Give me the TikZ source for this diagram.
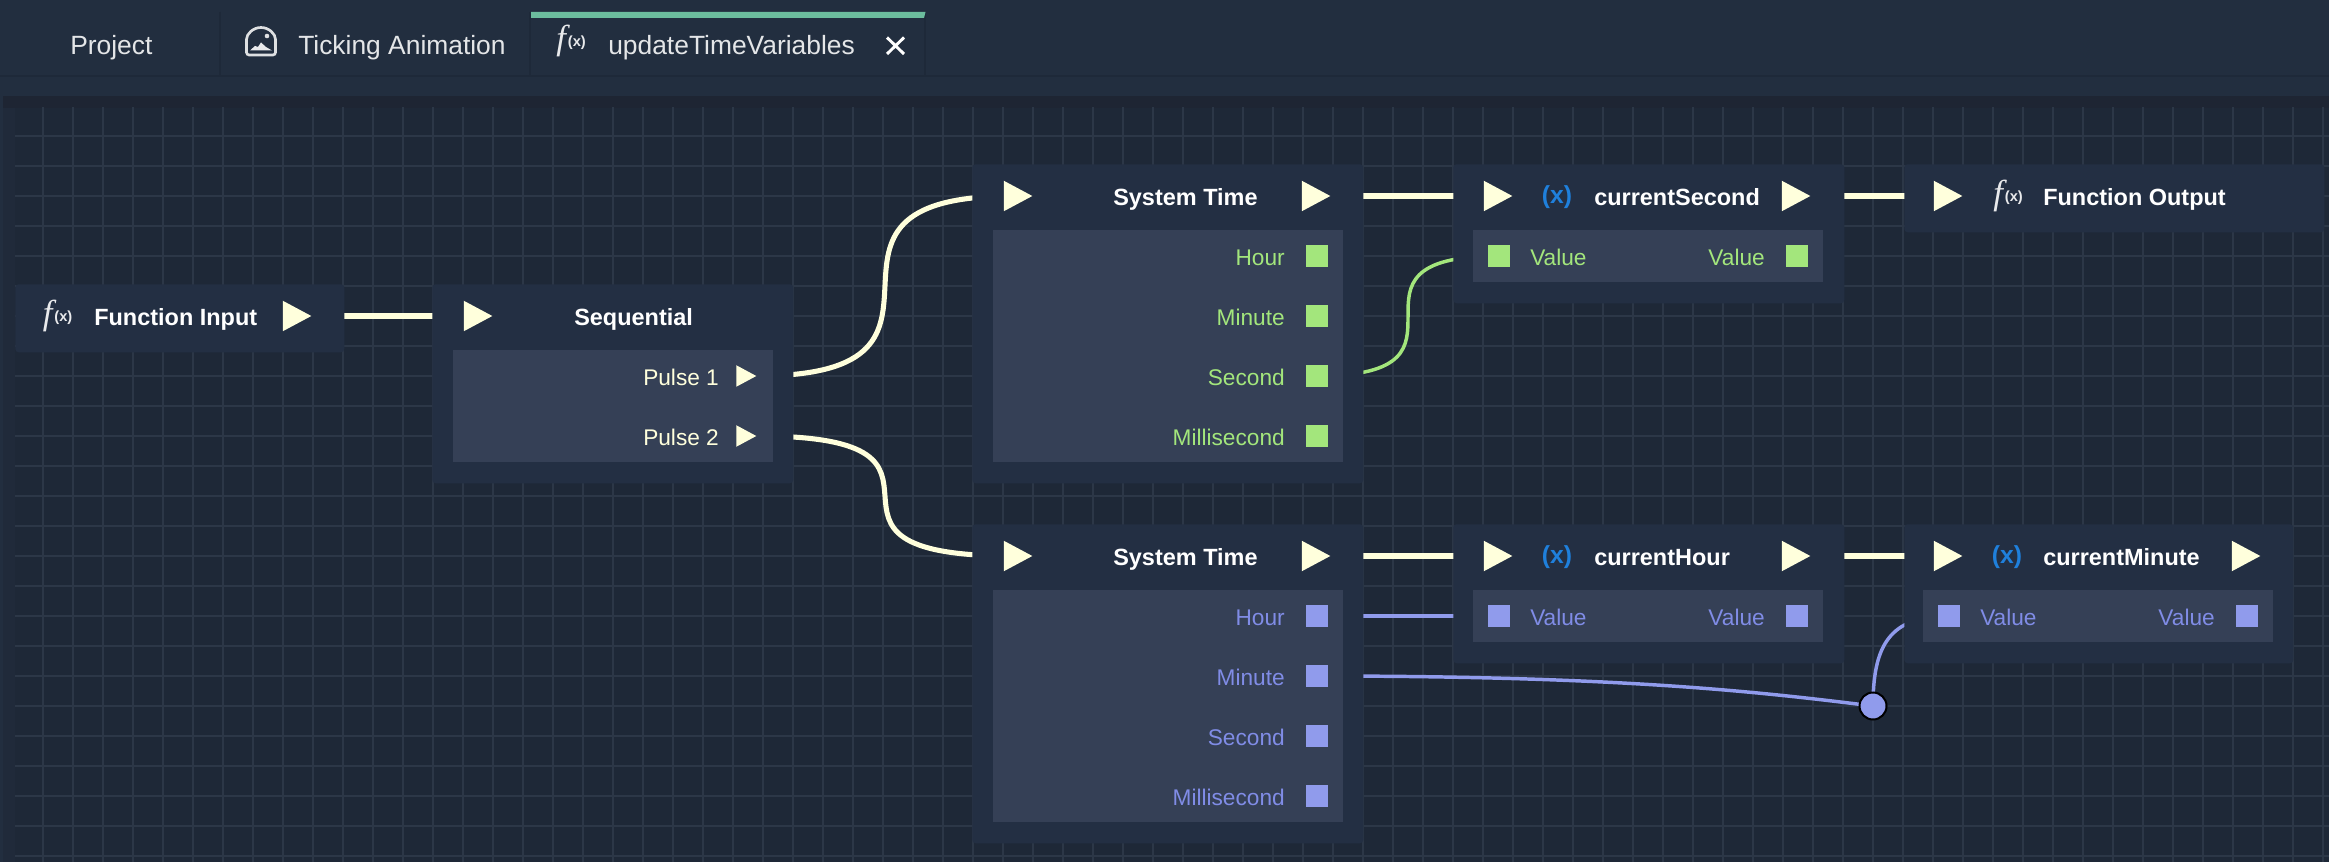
\documentclass[tikz,border=0pt]{standalone}
\usepackage{fontspec}
\setmainfont{Liberation Sans}
\newfontfamily\iconfont{Liberation Serif}
\usetikzlibrary{shapes.geometric}

\definecolor{headerbg}{HTML}{222E3F}
\definecolor{headerline}{HTML}{1E2939}
\definecolor{canvasbg}{HTML}{1E2837}
\definecolor{canvastop}{HTML}{1E2533}
\definecolor{gridcol}{HTML}{2C3747}
\definecolor{boxbg}{HTML}{232F43}
\definecolor{panelbg}{HTML}{354056}
\definecolor{pulsecol}{HTML}{FFFFDC}
\definecolor{greencol}{HTML}{A3E67C}
\definecolor{bluecol}{HTML}{909BEC}
\definecolor{bluetext}{HTML}{808CE6}
\definecolor{varcol}{HTML}{1F80DC}
\definecolor{tabcol}{HTML}{6CBD9E}

\pgfdeclarelayer{wirelayer}
\pgfsetlayers{wirelayer,main}

\tikzset{
  every picture/.style={line width=0.75pt},
  nodebox/.style 2 args={fill=boxbg,rounded corners=2.5pt,anchor=north west,inner sep=0pt,minimum width=#1*0.75pt,minimum height=#2*0.75pt},
  panelbox/.style 2 args={fill=panelbg,anchor=north west,inner sep=0pt,minimum width=#1*0.75pt,minimum height=#2*0.75pt},
  pulsetri/.style={isosceles triangle,isosceles triangle stretches,shape border rotate=0,fill=pulsecol,inner sep=0pt,anchor=apex,minimum width=30.5*0.75pt,minimum height=28.5*0.75pt},
  pulsesmall/.style={pulsetri,minimum width=21.5*0.75pt,minimum height=20*0.75pt},
  greensq/.style={rectangle,fill=greencol,inner sep=0pt,minimum size=21.5*0.75pt},
  bluesq/.style={rectangle,fill=bluecol,inner sep=0pt,minimum size=21.5*0.75pt},
  pulsewire/.style={draw=pulsecol,line width=4.5pt},
  greenwire/.style={draw=greencol,line width=2.6pt},
  bluewire/.style={draw=bluecol,line width=2.6pt},
  titletext/.style={text=white,font=\fontsize{17.6}{20}\selectfont\bfseries,inner sep=0pt,anchor=base west},
  tabtext/.style={text=white!88!headerbg,font=\fontsize{19.8}{22}\selectfont,inner sep=0pt,anchor=base west},
  rowtext/.style={font=\fontsize{17}{20}\selectfont,inner sep=0pt},
  fxicon/.style={text=white!90!boxbg,inner sep=0pt,anchor=base west},
  varicon/.style={text=varcol,font=\fontsize{18.5}{20}\selectfont\bfseries,inner sep=0pt,anchor=center}
}
\newcommand{\fxmark}{{\iconfont\itshape\fontsize{26}{26}\selectfont f}\kern1.5pt\raisebox{2.5pt}{\fontsize{11}{11}\selectfont\bfseries(x)}}

\begin{document}
\begin{tikzpicture}[x=0.75pt,y=0.75pt,yscale=-1,xscale=1]
\useasboundingbox (0,0) rectangle (2329,862);

%Shape: Header and canvas
\begin{pgfonlayer}{wirelayer}
\fill [headerbg] (0,0) rectangle (2329,862);
\fill [canvastop] (3,96) rectangle (2329,108);
\fill [canvasbg!60!headerbg] (3,108) rectangle (15,862);
\fill [canvasbg] (15,108) rectangle (2329,862);
\draw [headerline,line width=0.9pt] (0,76) -- (2329,76);
\draw [headerline,line width=0.9pt] (220,12) -- (220,76);
\draw [headerline,line width=0.9pt] (530,12) -- (530,76);
\draw [headerline,line width=0.9pt] (925,12) -- (925,76);
%Shape: Grid
\begin{scope}
\clip (15,108) rectangle (2329,862);
\draw [gridcol,line width=1.3pt,xstep=30,ystep=30,shift={(12.9,15.7)}] (0,60) grid (2340,870);
\end{scope}
\end{pgfonlayer}

%Shape: Active tab bar
\fill [tabcol] (531,12) -- (925.5,12) -- (924,18) -- (531,18) -- cycle;

% Tab labels
\node [tabtext] (tabproject) at (70,54.5) {Project};
\node [tabtext] (tabticking) at (298,54.5) {Ticking Animation};
\node [tabtext] (tabupdate) at (608,54.5) {updateTimeVariables};
\node [fxicon] (tabfx) at (556,50) {\fxmark};
%Shape: Close cross
\draw [white,line width=2.2pt] (887,37.5) -- (904,54);
\draw [white,line width=2.2pt] (904,37.5) -- (887,54);
%Shape: Picture icon
\draw [white!85!headerbg,line width=2pt,rounded corners=2pt] (246.5,55) -- (246.5,42) arc (180:360:14.5) -- (275.5,55) -- cycle;
\fill [white!85!headerbg] (267,36) circle (2.3);
\fill [white!90!headerbg] (250,50.5) -- (255,46) -- (258,47) -- (261,42.5) -- (266,47) -- (272,50.5) -- cycle;

% Boxes
\node [nodebox={329}{68}] (fibox) at (15,284) {};
\node [nodebox={361}{199}] (seqbox) at (432,284) {};
\node [panelbox={320}{112}] (seqpanel) at (453,350) {};
\node [nodebox={391}{319}] (sysabox) at (972,164) {};
\node [panelbox={350}{232}] (sysapanel) at (993,230) {};
\node [nodebox={391}{139}] (csecbox) at (1453,164) {};
\node [panelbox={350}{52}] (csecpanel) at (1473,230) {};
\node [nodebox={420}{68}] (fobox) at (1904,164) {};
\node [nodebox={391}{319}] (sysbbox) at (972,524) {};
\node [panelbox={350}{232}] (sysbpanel) at (993,590) {};
\node [nodebox={391}{139}] (chourbox) at (1453,524) {};
\node [panelbox={350}{52}] (chourpanel) at (1473,590) {};
\node [nodebox={389}{139}] (cminbox) at (1904,524) {};
\node [panelbox={350}{52}] (cminpanel) at (1923,590) {};

% Pulse ports
\node [pulsetri] (fiout) at (312,316) {};
\node [pulsetri] (seqin) at (493,316) {};
\node [pulsesmall] (seqone) at (757,376) {};
\node [pulsesmall] (seqtwo) at (757,436) {};
\node [pulsetri] (sysain) at (1033,196) {};
\node [pulsetri] (sysaout) at (1331,196) {};
\node [pulsetri] (csecin) at (1513,196) {};
\node [pulsetri] (csecout) at (1811,196) {};
\node [pulsetri] (foin) at (1963,196) {};
\node [pulsetri] (sysbin) at (1033,556) {};
\node [pulsetri] (sysbout) at (1331,556) {};
\node [pulsetri] (chourin) at (1513,556) {};
\node [pulsetri] (chourout) at (1811,556) {};
\node [pulsetri] (cminin) at (1963,556) {};
\node [pulsetri] (cminout) at (2261,556) {};

% Data ports
\node [greensq] (sysahour) at (1317,256) {};
\node [greensq] (sysamin) at (1317,316) {};
\node [greensq] (sysasec) at (1317,376) {};
\node [greensq] (sysams) at (1317,436) {};
\node [greensq] (csecval) at (1499,256) {};
\node [greensq] (csecvalout) at (1797,256) {};
\node [bluesq] (sysbhour) at (1317,616) {};
\node [bluesq] (sysbmin) at (1317,676) {};
\node [bluesq] (sysbsec) at (1317,736) {};
\node [bluesq] (sysbms) at (1317,796) {};
\node [bluesq] (chourval) at (1499,616) {};
\node [bluesq] (chourvalout) at (1797,616) {};
\node [bluesq] (cminval) at (1949,616) {};
\node [bluesq] (cminvalout) at (2247,616) {};

% Reroute dot
\node [circle,fill=bluecol,draw=black,line width=1.5pt,inner sep=0pt,minimum size=27*0.75pt] (reroute) at (1873,706) {};

% Wires
\begin{pgfonlayer}{wirelayer}
\draw [pulsewire] (fiout.apex) -- (seqin.apex);
\draw [pulsewire] (sysaout.apex) -- (csecin.apex);
\draw [pulsewire] (csecout.apex) -- (foin.apex);
\draw [pulsewire] (sysbout.apex) -- (chourin.apex);
\draw [pulsewire] (chourout.apex) -- (cminin.apex);
\draw [pulsewire,line width=3.8pt] (seqone.apex) .. controls +(247,0) and +(-247,0) .. (sysain.base);
\draw [pulsewire,line width=3.8pt] (seqtwo.apex) .. controls +(247,0) and +(-247,0) .. (sysbin.base);
\draw [greenwire] (sysasec.center) .. controls +(182,0) and +(-182,0) .. (csecval.center);
\draw [bluewire,line width=3pt] (sysbhour.center) -- (chourval.center);
\draw [bluewire] (sysbmin.center) .. controls +(300,0) and +(-120,-15) .. (reroute.center);
\draw [bluewire] (reroute.center) .. controls +(0,-60) and +(-60,0) .. (cminval.center);
\end{pgfonlayer}

% Titles
\node [fxicon] (fifx) at (42.5,325) {\fxmark};
\node [titletext] (fititle) at (94,325.5) {Function Input};
\node [titletext] (seqtitle) at (574,325.5) {Sequential};
\node [titletext] (sysatitle) at (1113,205.5) {System Time};
\node [varicon] (csecvar) at (1557,197) {(x)};
\node [titletext] (csectitle) at (1594,205.5) {currentSecond};
\node [fxicon] (fofx) at (1993,205) {\fxmark};
\node [titletext] (fotitle) at (2043,205.5) {Function Output};
\node [titletext] (sysbtitle) at (1113,565.5) {System Time};
\node [varicon] (chourvar) at (1557,557) {(x)};
\node [titletext] (chourtitle) at (1594,565.5) {currentHour};
\node [varicon] (cminvar) at (2007,557) {(x)};
\node [titletext] (cmintitle) at (2043,565.5) {currentMinute};

% Row labels
\node [rowtext,text=pulsecol,anchor=base west] (seqonetext) at (643,385.5) {Pulse 1};
\node [rowtext,text=pulsecol,anchor=base west] (seqtwotext) at (643,445.5) {Pulse 2};
\node [rowtext,text=greencol,anchor=base east] (sysahourtext) at (1285,265.5) {Hour};
\node [rowtext,text=greencol,anchor=base east] (sysamintext) at (1285,325.5) {Minute};
\node [rowtext,text=greencol,anchor=base east] (sysasectext) at (1285,385.5) {Second};
\node [rowtext,text=greencol,anchor=base east] (sysamstext) at (1285,445.5) {Millisecond};
\node [rowtext,text=greencol,anchor=base west] (csecvaltext) at (1530,265.5) {Value};
\node [rowtext,text=greencol,anchor=base east] (csecouttext) at (1765,265.5) {Value};
\node [rowtext,text=bluetext,anchor=base east] (sysbhourtext) at (1285,625.5) {Hour};
\node [rowtext,text=bluetext,anchor=base east] (sysbmintext) at (1285,685.5) {Minute};
\node [rowtext,text=bluetext,anchor=base east] (sysbsectext) at (1285,745.5) {Second};
\node [rowtext,text=bluetext,anchor=base east] (sysbmstext) at (1285,805.5) {Millisecond};
\node [rowtext,text=bluetext,anchor=base west] (chourvaltext) at (1530,625.5) {Value};
\node [rowtext,text=bluetext,anchor=base east] (chourouttext) at (1765,625.5) {Value};
\node [rowtext,text=bluetext,anchor=base west] (cminvaltext) at (1980,625.5) {Value};
\node [rowtext,text=bluetext,anchor=base east] (cminouttext) at (2215,625.5) {Value};

\end{tikzpicture}
\end{document}
